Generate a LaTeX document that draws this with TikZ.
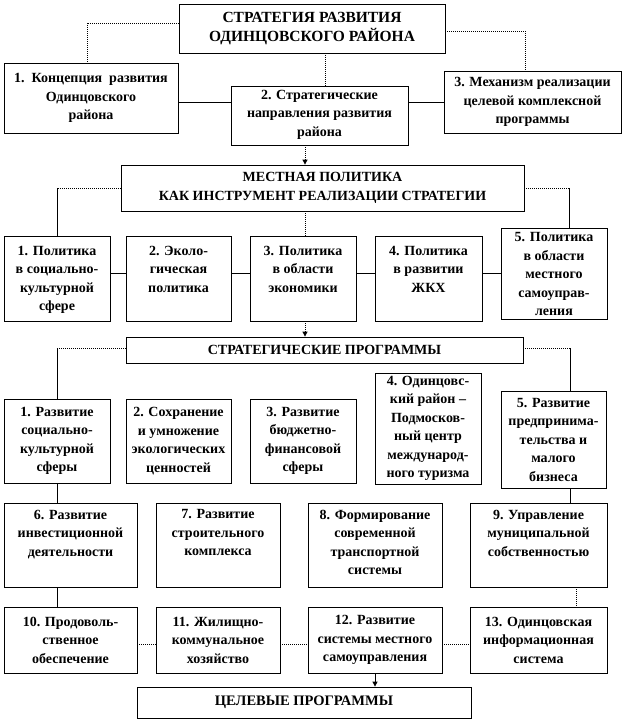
\documentclass[tikz,border=0pt]{standalone}
\usepackage{fontspec}
\setmainfont{Liberation Serif}
\usetikzlibrary{arrows.meta}
\newcommand\bx[6]{\node[box, minimum width=#4pt, minimum height=#5pt] (#1) at (#2,#3) {#6};}
\newcommand\bxt[7]{\node[box, minimum width=#4pt, minimum height=#5pt] (#1) at (#2,#3) {};
  \node[txt, anchor=north] (#1t) at ([yshift=-#7pt]#1.north) {#6};}
\tikzset{
  box/.style={draw, line width=0.8pt, inner sep=1pt, align=center, font=\bfseries\fontsize{14}{18.5}\selectfont},
  txt/.style={inner sep=0pt, align=center, font=\bfseries\fontsize{14}{18.5}\selectfont},
  conn/.style={line width=0.8pt},
  dotc/.style={line width=0.8pt, dash pattern=on 1pt off 1pt},
  arr/.style={-{Triangle[length=5pt,width=5pt]}},
}
\begin{document}
\begin{tikzpicture}[x=1pt,y=-1pt]
\useasboundingbox (0,0) rectangle (622,721);
% level 1
\bx{top}{312}{28.5}{266}{49}{\fontsize{15.5}{22}\selectfont СТРАТЕГИЯ РАЗВИТИЯ\\\fontsize{15.5}{22}\selectfont ОДИНЦОВСКОГО РАЙОНА}
\bx{b1}{91}{98}{174}{70}{1.\ \ Концепция\ \ развития\\Одинцовского\\района}
\bxt{b2}{319.5}{115.5}{177}{59}{2. Стратегические\\направления развития\\района}{4}
\bx{b3}{532.5}{102}{177}{62}{3. Механизм реализации\\целевой комплексной\\программы}
\coordinate (c1) at (87,23);
\coordinate (c2) at (525,31);
\draw[dotc] (top.west|-c1) -- (c1) -- (b1.north-|c1);
\draw[dotc] (top.east|-c2) -- (c2) -- (b3.north-|c2);
\draw[dotc] (325,0|-top.south) -- (325,0|-b2.north);
\draw[conn] (b1.east|-0,102) -- (b2.west|-0,102);
\draw[conn] (b2.east|-0,102) -- (b3.west|-0,102);
% level 2
\bx{mp}{322.5}{188}{403}{46}{\fontsize{14}{17}\selectfont МЕСТНАЯ ПОЛИТИКА\\\fontsize{14}{17}\selectfont КАК ИНСТРУМЕНТ РЕАЛИЗАЦИИ СТРАТЕГИИ}
\draw[dotc, arr] (305,0|-b2.south) -- (305,0|-mp.north);
\bxt{p1}{57}{278.5}{106}{85}{1. Политика\\в социально-\\культурной\\сфере}{10}
\bxt{p2}{178.5}{278.5}{105}{85}{2. Эколо-\\гическая\\политика}{10}
\bxt{p3}{303}{278.5}{106}{85}{3. Политика\\в области\\экономики}{10}
\bxt{p4}{428.5}{278.5}{107}{85}{4. Политика\\в развитии\\ЖКХ}{10}
\bxt{p5}{554}{273.5}{106}{91}{5. Политика\\в области\\местного\\самоуправ-\\ления}{5}
\coordinate (c3) at (57,188);
\coordinate (c4) at (569,188);
\draw[dotc] (mp.west|-c3) -- (c3);
\draw[conn] (c3) -- (p1.north-|c3);
\draw[dotc] (mp.east|-c4) -- (c4);
\draw[conn] (c4) -- (p5.north-|c4);
\draw[dotc] (305,0|-mp.south) -- (305,0|-p3.north);
\draw[conn] (p1.east|-0,273) -- (p2.west|-0,273);
\draw[conn] (p2.east|-0,273) -- (p3.west|-0,273);
\draw[conn] (p3.east|-0,273) -- (p4.west|-0,273);
\draw[conn] (p4.east|-0,273) -- (p5.west|-0,273);
% level 3
\bx{sp}{324.5}{350}{397}{26}{\fontsize{14}{17}\selectfont СТРАТЕГИЧЕСКИЕ ПРОГРАММЫ}
\draw[dotc, arr] (305,0|-p3.south) -- (305,0|-sp.north);
\bx{s1}{57}{441}{106}{84}{1. Развитие\\социально-\\культурной\\сферы}
\bx{s2}{178.5}{441}{105}{84}{2. Сохранение\\и умножение\\экологических\\ценностей}
\bx{s3}{303}{441}{106}{84}{3. Развитие\\бюджетно-\\финансовой\\сферы}
\bx{s4}{428}{428.5}{106}{111}{4. Одинцовс-\\кий район –\\Подмосков-\\ный центр\\международ-\\ного туризма}
\bx{s5}{553.5}{439.5}{105}{97}{5. Развитие\\предпринима-\\тельства и\\малого\\бизнеса}
\coordinate (c5) at (57,348);
\coordinate (c6) at (570,348);
\draw[dotc] (sp.west|-c5) -- (c5);
\draw[conn] (c5) -- (s1.north-|c5);
\draw[dotc] (sp.east|-c6) -- (c6);
\draw[conn] (c6) -- (s5.north-|c6);
% level 4
\bxt{b6}{70.5}{545}{133}{84}{6. Развитие\\инвестиционной\\деятельности}{7}
\bxt{b7}{218}{545}{124}{84}{7. Развитие\\строительного\\комплекса}{7}
\bxt{b8}{375}{545}{134}{84}{8. Формирование\\современной\\транспортной\\системы}{7}
\bxt{b9}{538.5}{545}{137}{84}{9. Управление\\муниципальной\\собственностью}{7}
\draw[conn] (57,0|-s1.south) -- (57,0|-b6.north);
\draw[conn] (570,0|-s5.south) -- (570,0|-b9.north);
% level 5
\bx{b10}{70.5}{640}{133}{66}{10. Продоволь-\\ственное\\обеспечение}
\bx{b11}{218}{640}{124}{66}{11. Жилищно-\\коммунальное\\хозяйство}
\bx{b12}{375}{640}{134}{66}{12. Развитие\\системы местного\\самоуправления}
\bx{b13}{538.5}{640}{137}{66}{13. Одинцовская\\информационная\\система}
\draw[conn] (57,0|-b6.south) -- (57,0|-b10.north);
\draw[dotc] (576,0|-b9.south) -- (576,0|-b13.north);
\draw[dotc] (b10.east|-0,644) -- (b11.west|-0,644);
\draw[dotc] (b11.east|-0,644) -- (b12.west|-0,644);
\draw[dotc] (b12.east|-0,644) -- (b13.west|-0,644);
% goal
\bx{goal}{304}{702.5}{334}{31}{\fontsize{14.5}{17}\selectfont ЦЕЛЕВЫЕ ПРОГРАММЫ}
\draw[conn, arr] (375,0|-b12.south) -- (375,0|-goal.north);
\end{tikzpicture}
\end{document}
